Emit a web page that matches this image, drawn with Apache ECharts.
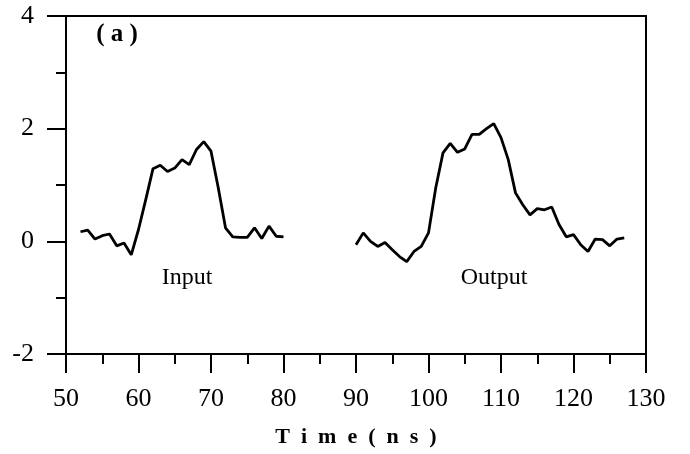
<!DOCTYPE html>
<html>
<head>
<meta charset="utf-8">
<script src="https://cdn.jsdelivr.net/npm/echarts@6/dist/echarts.min.js"></script>
<style>
html,body{margin:0;padding:0;background:#fff;}
#chart{width:690px;height:454px;}
</style>
</head>
<body>
<div id="chart"></div>
<script>
// ---- data ----
const inputTime = [52,53,54,55,56,57,58,59,60,61,62,63,64,65,66,67,68,69,70,71,72,73,74,75,76,77,78,79,80];
const inputValue = [0.17,0.20,0.04,0.10,0.13,-0.08,-0.03,-0.24,0.21,0.74,1.29,1.35,1.24,1.30,1.45,1.36,1.63,1.77,1.60,0.95,0.24,0.08,0.07,0.07,0.24,0.05,0.27,0.09,0.08];
const outputTime = [90,91,92,93,94,95,96,97,98,99,100,101,102,103,104,105,106,107,108,109,110,111,112,113,114,115,116,117,118,119,120,121,122,123,124,125,126,127];
const outputValue = [-0.06,0.15,0.00,-0.09,-0.02,-0.15,-0.27,-0.36,-0.18,-0.09,0.15,0.95,1.57,1.74,1.58,1.64,1.90,1.90,2.00,2.09,1.84,1.45,0.86,0.65,0.47,0.58,0.56,0.61,0.30,0.08,0.12,-0.06,-0.18,0.04,0.03,-0.08,0.04,0.06];
const xTicks = [50,60,70,80,90,100,110,120,130];
const yTicks = [-2,0,2,4];
const xTitle = 'T  i  m  e  (  n  s  )';
const panelLabel = '( a )';
const inputLabel = 'Input';
const outputLabel = 'Output';

function pairs(xs, ys){ return xs.map((x,i)=>[x, ys[i]]); }

const FONT = '"Liberation Serif", "Times New Roman", serif';
const chart = echarts.init(document.getElementById('chart'), null, {renderer:'canvas'});
chart.setOption({
  animation: false,
  backgroundColor: '#fff',
  grid: {left: 66, right: 44, top: 16, bottom: 100, show: true, borderColor: '#000', borderWidth: 2},
  xAxis: {
    type: 'value', min: xTicks[0], max: xTicks[xTicks.length-1], interval: 10,
    name: xTitle, nameLocation: 'middle', nameGap: 72,
    nameTextStyle: {fontFamily: FONT, fontSize: 22, fontWeight: 'bold', color: '#000'},
    axisLine: {show: true, onZero: false, lineStyle: {color: '#000', width: 2}},
    axisTick: {show: true, inside: false, length: 19, lineStyle: {color: '#000', width: 2}},
    minorTick: {show: true, splitNumber: 2, length: 10, lineStyle: {color: '#000', width: 2}},
    axisLabel: {margin: 32, fontFamily: FONT, fontSize: 26, color: '#000',
      formatter: v => xTicks.includes(v) ? String(v) : ''},
    splitLine: {show: false}
  },
  yAxis: {
    type: 'value', min: yTicks[0], max: yTicks[yTicks.length-1], interval: 2,
    axisLine: {show: true, onZero: false, lineStyle: {color: '#000', width: 2}},
    axisTick: {show: true, inside: false, length: 19, lineStyle: {color: '#000', width: 2}},
    minorTick: {show: true, splitNumber: 2, length: 10, lineStyle: {color: '#000', width: 2}},
    axisLabel: {margin: 32, fontFamily: FONT, fontSize: 26, color: '#000',
      formatter: v => yTicks.includes(v) ? String(v) : ''},
    splitLine: {show: false}
  },
  series: [
    {type: 'line', name: inputLabel, data: pairs(inputTime, inputValue), showSymbol: false,
     lineStyle: {color: '#000', width: 2.8}, itemStyle: {color: '#000'}},
    {type: 'line', name: outputLabel, data: pairs(outputTime, outputValue), showSymbol: false,
     lineStyle: {color: '#000', width: 2.8}, itemStyle: {color: '#000'}}
  ],
  graphic: [
    {type: 'text', x: 117, y: 35, style: {text: panelLabel, font: 'bold 25px ' + FONT, fill: '#000', align: 'center', verticalAlign: 'middle'}},
    {type: 'text', x: 187, y: 278, style: {text: inputLabel, font: '24px ' + FONT, fill: '#000', align: 'center', verticalAlign: 'middle'}},
    {type: 'text', x: 494, y: 278, style: {text: outputLabel, font: '24px ' + FONT, fill: '#000', align: 'center', verticalAlign: 'middle'}}
  ]
});
</script>
</body>
</html>
